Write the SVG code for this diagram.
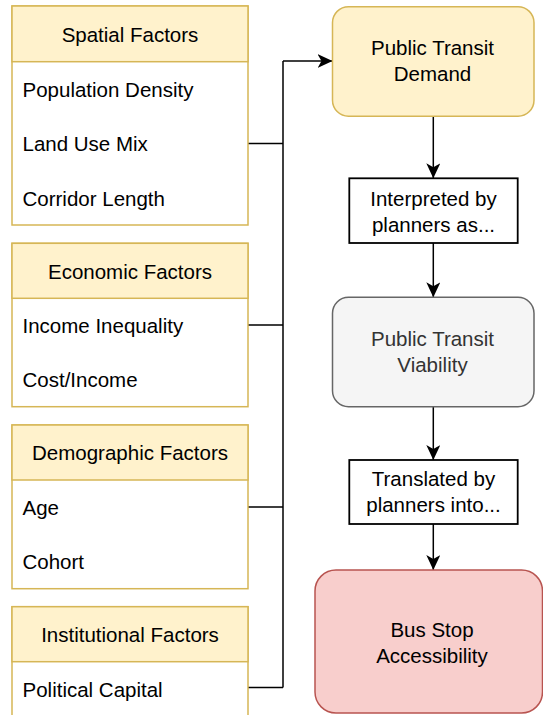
<svg xmlns="http://www.w3.org/2000/svg" width="543" height="715" viewBox="0 0 543 715">
<style>
text{font-family:"Liberation Sans",Arial,Helvetica,sans-serif;font-size:20.5px;fill:#000}
.hdr{fill:#fff2cc;stroke:#d6b656;stroke-width:1.5}
.body{fill:#ffffff;stroke:#d6b656;stroke-width:1.5}
.c{text-anchor:middle}
.conn{fill:none;stroke:#000;stroke-width:1.5}
.lbl{fill:#fff;stroke:#000;stroke-width:1.8}
</style>
<defs>
<marker id="arr" markerUnits="userSpaceOnUse" markerWidth="15" markerHeight="14" viewBox="0 0 15 14" refX="15" refY="7" orient="auto">
<path d="M0,0 L15,7 L0,14 L4,7 Z" fill="#000"/>
</marker>
</defs>
<rect width="543" height="715" fill="#fff"/>

<g id="connectors">
<path class="conn" d="M248,143.5 H283 M248,325 H283 M248,507 H283 M248,687.5 H283 M283,687.5 V61"/>
<path class="conn" d="M283,61 H332.5" marker-end="url(#arr)"/>
<path class="conn" d="M433.3,116.2 V178.3" marker-end="url(#arr)"/>
<path class="conn" d="M433.3,243 V297.3" marker-end="url(#arr)"/>
<path class="conn" d="M433.3,406.7 V460" marker-end="url(#arr)"/>
<path class="conn" d="M433.3,524 V570" marker-end="url(#arr)"/>
</g>

<g id="spatial">
<rect class="body" x="12" y="6" width="236" height="219"/>
<rect class="hdr" x="12" y="6" width="236" height="55.7"/>
<text class="c" x="130" y="41.6">Spatial Factors</text>
<text x="22.5" y="96.7">Population Density</text>
<text x="22.5" y="151.3">Land Use Mix</text>
<text x="22.5" y="205.6">Corridor Length</text>
</g>

<g id="economic">
<rect class="body" x="12" y="243.3" width="236" height="163.4"/>
<rect class="hdr" x="12" y="243.3" width="236" height="55"/>
<text class="c" x="130" y="278.6">Economic Factors</text>
<text x="22.5" y="333.2">Income Inequality</text>
<text x="22.5" y="387.4">Cost/Income</text>
</g>

<g id="demographic">
<rect class="body" x="12" y="425" width="236" height="163.7"/>
<rect class="hdr" x="12" y="425" width="236" height="55"/>
<text class="c" x="130" y="460.3">Demographic Factors</text>
<text x="22.5" y="515">Age</text>
<text x="22.5" y="569.3">Cohort</text>
</g>

<g id="institutional">
<rect class="body" x="12" y="606.7" width="236" height="115"/>
<rect class="hdr" x="12" y="606.7" width="236" height="55"/>
<text class="c" x="130" y="642">Institutional Factors</text>
<text x="22.5" y="696.5">Political Capital</text>
</g>

<g id="demand">
<rect x="332.5" y="6.7" width="201.5" height="109.5" rx="16" ry="16" fill="#fff2cc" stroke="#d6b656" stroke-width="1.5"/>
<text class="c" x="432.5" y="55.4">Public Transit</text>
<text class="c" x="432.5" y="81.4">Demand</text>
</g>

<g id="interpreted">
<rect class="lbl" x="349.3" y="178.3" width="168.4" height="64.7"/>
<text class="c" x="433.5" y="205.5">Interpreted by</text>
<text class="c" x="433.5" y="231.5">planners as...</text>
</g>

<g id="viability">
<rect x="332.5" y="297.3" width="201.5" height="109.4" rx="16" ry="16" fill="#f5f5f5" stroke="#666666" stroke-width="1.5"/>
<text class="c" x="432.5" y="346" style="fill:#333333">Public Transit</text>
<text class="c" x="432.5" y="372" style="fill:#333333">Viability</text>
</g>

<g id="translated">
<rect class="lbl" x="349.3" y="460" width="168.4" height="64"/>
<text class="c" x="433.5" y="486">Translated by</text>
<text class="c" x="433.5" y="512">planners into...</text>
</g>

<g id="busstop">
<rect x="315" y="570" width="227.5" height="143" rx="21" ry="21" fill="#f8cecc" stroke="#b85450" stroke-width="1.5"/>
<text class="c" x="432" y="637">Bus Stop</text>
<text class="c" x="432" y="663">Accessibility</text>
</g>
</svg>
